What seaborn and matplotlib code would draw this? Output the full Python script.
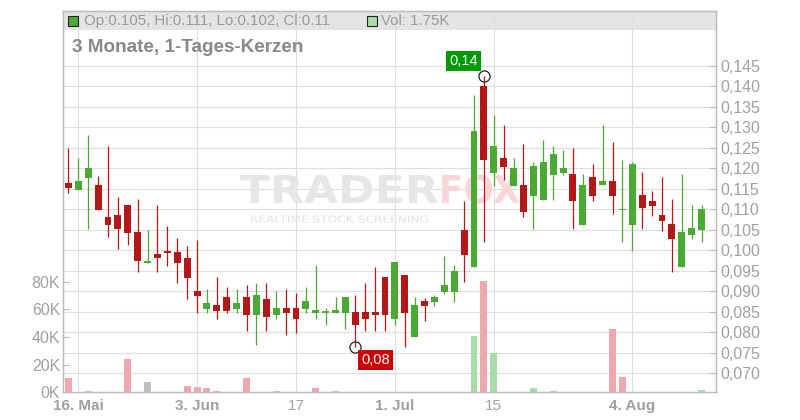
import numpy as np
import pandas as pd
import matplotlib
matplotlib.use("Agg")
import matplotlib.pyplot as plt
import matplotlib.ticker as mticker
from matplotlib.patches import Rectangle, PathPatch
from matplotlib.textpath import TextPath
from matplotlib.font_manager import FontProperties
from matplotlib.transforms import Affine2D
import seaborn as sns

# Tageskerzen (3 Monate)
opens = [0.1164, 0.1148, 0.1177, 0.1159, 0.1081, 0.1086, 0.1110, 0.1045, 0.0970, 0.0991,
         0.0999, 0.0996, 0.0981, 0.0900, 0.0858, 0.0867, 0.0886, 0.0858, 0.0886, 0.0843,
         0.0881, 0.0843, 0.0859, 0.0859, 0.0858, 0.0848, 0.0849, 0.0848, 0.0848, 0.0850,
         0.0850, 0.0850, 0.0935, 0.0833, 0.0940, 0.0789, 0.0877, 0.0874, 0.0898, 0.0899,
         0.1050, 0.0958, 0.1401, 0.1189, 0.1225, 0.1157, 0.1159, 0.1133, 0.1123, 0.1184,
         0.1189, 0.1186, 0.1062, 0.1179, 0.1158, 0.1169, 0.1099, 0.1062, 0.1135, 0.1120,
         0.1086, 0.1064, 0.0958, 0.1038, 0.105]
highs = [0.1249, 0.1226, 0.1280, 0.1180, 0.1255, 0.1130, 0.1110, 0.1125, 0.1050, 0.1110,
         0.1059, 0.1030, 0.1010, 0.1025, 0.0905, 0.0935, 0.0910, 0.0905, 0.0915, 0.0920,
         0.0920, 0.0901, 0.0905, 0.0896, 0.0910, 0.0964, 0.0859, 0.0886, 0.0886, 0.0891,
         0.0920, 0.0959, 0.0935, 0.0972, 0.0940, 0.0887, 0.0884, 0.0891, 0.0986, 0.0964,
         0.1120, 0.1379, 0.1425, 0.1330, 0.1306, 0.1225, 0.1259, 0.1215, 0.1269, 0.1254,
         0.1245, 0.1249, 0.1186, 0.1210, 0.1306, 0.1264, 0.1220, 0.1215, 0.1191, 0.1145,
         0.1179, 0.1125, 0.1186, 0.1110, 0.111]
lows = [0.1139, 0.1147, 0.1053, 0.1098, 0.1033, 0.1004, 0.1013, 0.0948, 0.0970, 0.0948,
        0.0962, 0.0919, 0.0880, 0.0848, 0.0848, 0.0833, 0.0848, 0.0848, 0.0804, 0.0770,
        0.0804, 0.0833, 0.0794, 0.0799, 0.0848, 0.0833, 0.0819, 0.0848, 0.0809, 0.0765,
        0.0804, 0.0804, 0.0804, 0.0819, 0.0765, 0.0789, 0.0828, 0.0864, 0.0893, 0.0874,
        0.0923, 0.0958, 0.1019, 0.1157, 0.1171, 0.1157, 0.1080, 0.1053, 0.1123, 0.1123,
        0.1184, 0.1053, 0.1062, 0.1119, 0.1158, 0.1089, 0.1019, 0.0999, 0.1053, 0.1084,
        0.1048, 0.0948, 0.0958, 0.1028, 0.102]
closes = [0.1153, 0.1169, 0.1201, 0.1098, 0.1062, 0.1053, 0.1043, 0.0975, 0.0975, 0.0980,
          0.0994, 0.0970, 0.0933, 0.0889, 0.0871, 0.0853, 0.0853, 0.0871, 0.0843, 0.0891,
          0.0838, 0.0859, 0.0848, 0.0833, 0.0876, 0.0854, 0.0850, 0.0854, 0.0886, 0.0819,
          0.0833, 0.0843, 0.0843, 0.0972, 0.0848, 0.0867, 0.0864, 0.0886, 0.0915, 0.0950,
          0.0989, 0.1291, 0.1219, 0.1254, 0.1203, 0.1201, 0.1094, 0.1206, 0.1215, 0.1235,
          0.1201, 0.1119, 0.1159, 0.1133, 0.1169, 0.1133, 0.1100, 0.1210, 0.1104, 0.1109,
          0.1072, 0.1028, 0.1045, 0.1054, 0.11]
# Volumen in Tausend Stueck
volumes_k = [10.6, 0, 0.9, 0, 0, 0, 24.2, 0, 7.5, 0,
             0, 0, 4.6, 3.9, 3.1, 1.0, 0, 0, 10.4, 0,
             0, 0.7, 0, 0, 0, 3.1, 0, 0.7, 0, 0,
             0, 0, 0, 0, 0, 0, 0, 0, 0, 0,
             0, 40.6, 80.5, 28.3, 0, 0, 0, 2.9, 0, 1.0,
             0, 0, 0, 0, 0, 45.9, 11.4, 0, 0, 0,
             0, 0, 0, 0, 1.75]

tick_pos = [1, 13, 23, 33, 43, 57]
tick_labels = ["16. Mai", "3. Jun", "17", "1. Jul", "15", "4. Aug"]
tick_bold = [True, True, False, True, False, True]
price_ticks = [0.070, 0.075, 0.080, 0.085, 0.090, 0.095, 0.100, 0.105,
               0.110, 0.115, 0.120, 0.125, 0.130, 0.135, 0.140, 0.145]
vol_ticks = [0, 20, 40, 60, 80]

RED = "#b21818"
GREEN = "#4aaa33"
GRAY_TXT = "#a0a0a0"
GRID = "#dedede"
SPINE = "#bbbbbb"

df = pd.DataFrame({"idx": np.arange(len(opens)), "O": opens, "H": highs,
                   "L": lows, "C": closes, "vol": volumes_k})
chg = np.diff(np.r_[opens[0], closes])
df["vol_dir"] = np.where(np.isclose(chg, 0, atol=1e-6), "flat",
                         np.where(chg > 0, "up", "down"))
df["up"] = df["C"] >= df["O"]

sns.set_theme(style="white")
plt.rcParams['font.family'] = ['Liberation Sans', 'DejaVu Sans']

fig = plt.figure(figsize=(8, 4.2), dpi=100)
ax = fig.add_axes([63 / 800, 1 - 392.3 / 420, 653 / 800, 381.3 / 420])
vax = ax.twinx()

# Volumen
vol_pal = {"up": "#a8dca8", "down": "#f0a8b0", "flat": "#bfbfbf"}
sns.barplot(data=df, x="idx", y="vol", hue="vol_dir", palette=vol_pal,
            native_scale=True, width=0.7, dodge=False, saturation=1,
            errorbar=None, legend=False, linewidth=0, ax=vax)

# Kerzen
colors = np.where(df["up"], GREEN, RED)
ax.vlines(df["idx"], df["L"], df["H"], colors=colors, linewidth=0.9, zorder=3)
body_h = np.maximum((df["C"] - df["O"]).abs(), 0.0004)
body_b = (df["C"] + df["O"]) / 2 - body_h / 2
ax.bar(df["idx"], body_h, bottom=body_b, width=0.7, color=colors, linewidth=0, zorder=4)

# Hoch / Tief Markierung
hi_i = int(np.argmax(highs))
lo_i = int(np.argmin(lows))
for i, val, off, fc in [(hi_i, highs[hi_i], (-14.6, 10.9), "#009900"),
                        (lo_i, lows[lo_i], (14.4, -9.6), "#cc0000")]:
    ax.plot(i, val, marker="o", mfc="none", mec="#222222", ms=8, mew=0.9, zorder=6)
    ax.annotate(f"{val:.2f}".replace(".", ","), xy=(i, val), xytext=off,
                textcoords="offset points", ha="center", va="center",
                color="white", fontsize=10.5, zorder=7,
                bbox=dict(boxstyle="square,pad=0.2", fc=fc, ec="none"))

# Achsen
ax.set_xlim(-0.55, 65.46)
vax.set_xlim(-0.55, 65.46)
ax.set_ylim(0.06537, 0.15834)
vax.set_ylim(0, 275.8)

ax.yaxis.tick_right()
vax.yaxis.tick_left()
ax.set_yticks(price_ticks)
ax.yaxis.set_major_formatter(mticker.FuncFormatter(lambda v, _: f"{v:.3f}".replace(".", ",")))
vax.set_yticks(vol_ticks)
vax.yaxis.set_major_formatter(mticker.FuncFormatter(lambda v, _: f"{int(v)}K"))

ax.set_xticks(tick_pos)
ax.set_xticklabels(tick_labels)
for lab, b in zip(ax.get_xticklabels(), tick_bold):
    lab.set_fontweight("bold" if b else "normal")

ax.tick_params(axis="y", direction="in", length=4, width=0.8, color=SPINE,
               labelcolor=GRAY_TXT, labelsize=11.5, pad=3)
vax.tick_params(axis="y", direction="in", length=4, width=0.8, color=SPINE,
                labelcolor=GRAY_TXT, labelsize=11.5, pad=2)
ax.tick_params(axis="x", direction="out", length=3, width=0.8, color=SPINE,
               labelcolor=GRAY_TXT, labelsize=11, pad=1.5)
vax.tick_params(axis="x", bottom=False, top=False, labelbottom=False, labeltop=False)

ax.set_axisbelow(True)
ax.grid(True, color=GRID, linewidth=0.8)
vax.grid(False)
for a in (ax, vax):
    a.set_xlabel("")
    a.set_ylabel("")
    for s in a.spines.values():
        s.set_color(SPINE)
        s.set_linewidth(0.9)

# Kopfzeile
ax.add_patch(Rectangle((0, 0.9502), 1, 0.0498, transform=ax.transAxes,
                       facecolor="#e4e4e4", edgecolor="none", zorder=0.2))
fig.patches.append(Rectangle((68.3 / 800, 1 - 26 / 420), 10 / 800, 10 / 420,
                             transform=fig.transFigure, facecolor=GREEN,
                             edgecolor="#222222", linewidth=0.8))
fig.patches.append(Rectangle((366.7 / 800, 1 - 26 / 420), 10 / 800, 10 / 420,
                             transform=fig.transFigure, facecolor="#a8dca8",
                             edgecolor="#222222", linewidth=0.8))
fig.text(84 / 800, 1 - 25 / 420,
         f"Op:{opens[-1]:g}, Hi:{highs[-1]:g}, Lo:{lows[-1]:g}, Cl:{closes[-1]:g}",
         fontsize=10.8, color="#9a9a9a", va="baseline", ha="left")
fig.text(381 / 800, 1 - 25 / 420, f"Vol: {volumes_k[-1]:g}K",
         fontsize=10.8, color="#9a9a9a", va="baseline", ha="left")
fig.text(72.3 / 800, 1 - 52.3 / 420, "3 Monate, 1-Tages-Kerzen",
         fontsize=13.6, fontweight="bold", color="#888888", va="baseline", ha="left")


# Wasserzeichen, auf feste Pixelbreite gestreckt
def watermark(text, x0, x1, y_base, cap_px, color, weight="bold"):
    tp = TextPath((0, 0), text, size=1, prop=FontProperties(family="DejaVu Sans", weight=weight))
    ext = tp.get_extents()
    sx = (x1 - x0) / ext.width
    sy = cap_px / 0.73
    tr = (Affine2D().translate(-ext.x0, 0).scale(sx / 800, sy / 420)
          .translate(x0 / 800, 1 - y_base / 420) + fig.transFigure)
    ax.add_patch(PathPatch(tp, transform=tr, facecolor=color, edgecolor="none",
                           zorder=1, clip_on=False))


watermark("TRADER", 240, 438, 203, 28, "#e6e6e6")
watermark("FOX", 442, 520, 203, 28, "#fad6da")
watermark("REALTIME STOCK SCREENING", 251, 428, 222.5, 7, "#e2e2e2", weight="normal")

fig.savefig("out.png", dpi=100)
